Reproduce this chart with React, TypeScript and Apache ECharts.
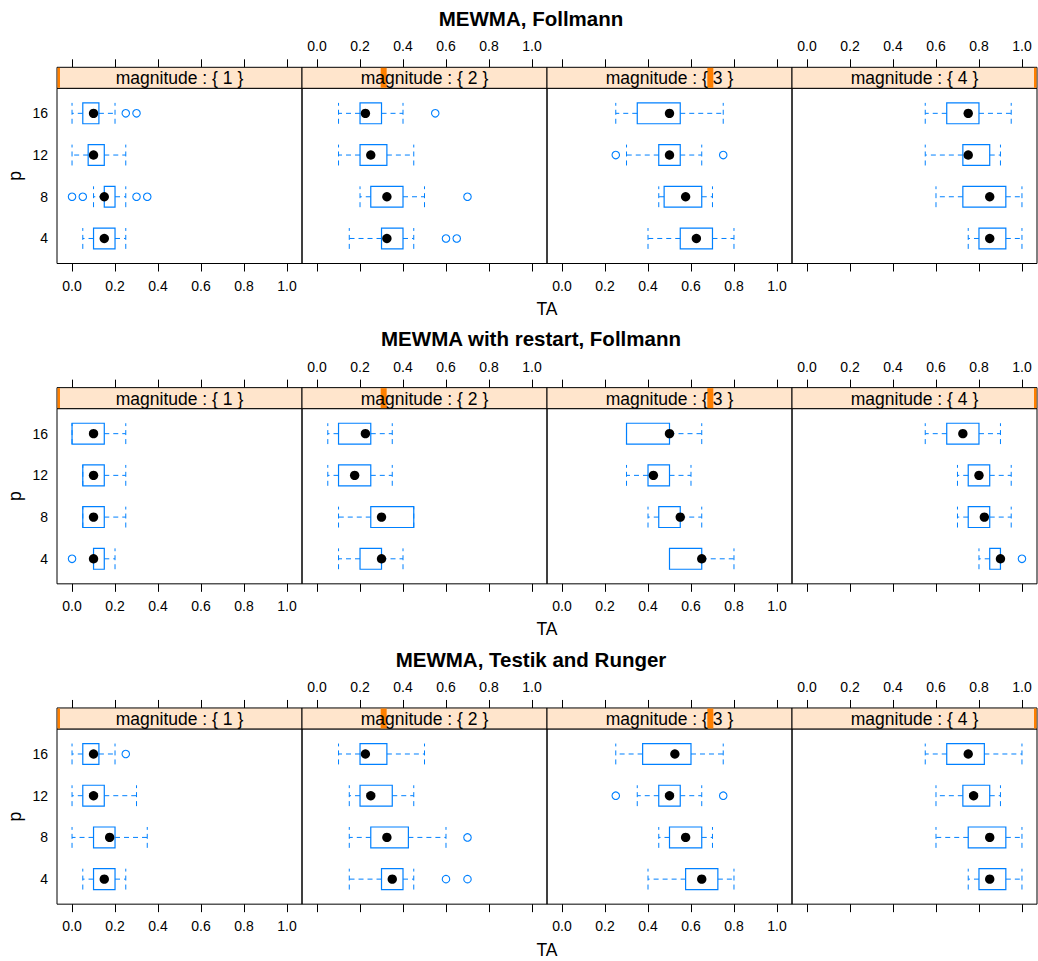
import React, { useEffect, useRef } from "react";
import * as echarts from "echarts";

// ---------- data ----------
const methods = ["MEWMA, Follmann", "MEWMA with restart, Follmann", "MEWMA, Testik and Runger"];
const magnitudes = [1, 2, 3, 4];
const pLevels = [4, 8, 12, 16];
const xTicks = [0, 0.2, 0.4, 0.6, 0.8, 1.0];

// per magnitude: rows for p = 4, 8, 12, 16 -> [lower whisker, Q1, median, Q3, upper whisker]
const statsFollmann = [
  [[0.05, 0.1, 0.15, 0.2, 0.25], [0.1, 0.15, 0.15, 0.2, 0.25], [0, 0.075, 0.1, 0.15, 0.25], [0, 0.05, 0.1, 0.125, 0.2]],
  [[0.15, 0.3, 0.325, 0.4, 0.45], [0.2, 0.25, 0.325, 0.4, 0.5], [0.1, 0.2, 0.25, 0.325, 0.45], [0.1, 0.2, 0.225, 0.3, 0.4]],
  [[0.4, 0.55, 0.625, 0.7, 0.8], [0.45, 0.475, 0.575, 0.65, 0.7], [0.3, 0.45, 0.5, 0.55, 0.65], [0.25, 0.35, 0.5, 0.55, 0.75]],
  [[0.75, 0.8, 0.85, 0.925, 1.0], [0.6, 0.725, 0.85, 0.925, 1.0], [0.55, 0.725, 0.75, 0.85, 0.9], [0.55, 0.65, 0.75, 0.8, 0.95]],
];
const statsRestart = [
  [[0.1, 0.1, 0.1, 0.15, 0.2], [0.05, 0.05, 0.1, 0.15, 0.25], [0.05, 0.05, 0.1, 0.15, 0.25], [0, 0, 0.1, 0.15, 0.25]],
  [[0.1, 0.2, 0.3, 0.3, 0.4], [0.1, 0.25, 0.3, 0.45, 0.45], [0.05, 0.1, 0.175, 0.25, 0.35], [0.05, 0.1, 0.225, 0.25, 0.35]],
  [[0.5, 0.5, 0.65, 0.65, 0.8], [0.4, 0.45, 0.55, 0.55, 0.65], [0.3, 0.4, 0.425, 0.5, 0.6], [0.3, 0.3, 0.5, 0.5, 0.65]],
  [[0.8, 0.85, 0.9, 0.9, 0.9], [0.7, 0.75, 0.825, 0.85, 0.95], [0.7, 0.75, 0.8, 0.85, 0.95], [0.55, 0.65, 0.725, 0.8, 0.9]],
];
const statsTestik = [
  [[0.05, 0.1, 0.15, 0.2, 0.25], [0, 0.1, 0.175, 0.2, 0.35], [0, 0.05, 0.1, 0.15, 0.3], [0, 0.05, 0.1, 0.125, 0.2]],
  [[0.15, 0.3, 0.35, 0.4, 0.45], [0.15, 0.25, 0.325, 0.425, 0.6], [0.15, 0.2, 0.25, 0.35, 0.45], [0.1, 0.2, 0.225, 0.325, 0.5]],
  [[0.4, 0.575, 0.65, 0.725, 0.8], [0.45, 0.5, 0.575, 0.65, 0.7], [0.35, 0.45, 0.5, 0.55, 0.65], [0.25, 0.375, 0.525, 0.6, 0.75]],
  [[0.75, 0.8, 0.85, 0.925, 1.0], [0.6, 0.75, 0.85, 0.925, 1.0], [0.6, 0.725, 0.775, 0.85, 0.9], [0.55, 0.65, 0.75, 0.825, 1.0]],
];

// outliers per magnitude: [p, value]
const outliersFollmann = [
  [[8, 0], [8, 0.05], [8, 0.3], [8, 0.35], [16, 0.25], [16, 0.3]],
  [[4, 0.6], [4, 0.65], [8, 0.7], [16, 0.55]],
  [[12, 0.25], [12, 0.75]],
  [],
];
const outliersRestart = [
  [[4, 0]],
  [],
  [],
  [[4, 1.0]],
];
const outliersTestik = [
  [[16, 0.25]],
  [[4, 0.6], [4, 0.7], [8, 0.7]],
  [[12, 0.25], [12, 0.75]],
  [],
];

const allStats = [statsFollmann, statsRestart, statsTestik];
const allOutliers = [outliersFollmann, outliersRestart, outliersTestik];

// ---------- layout / style ----------
const W = 1038;
const H = 961;
const ROW_H = 320.33;
const PANEL_LEFT = 57;
const PANEL_W = 245;
const PANEL_TOP = 88.3;
const PANEL_H = 175.2;
const STRIP_H = 21;
const BLUE = "#0080ff";
const FONT = "'Liberation Sans', Arial, Helvetica, sans-serif";
const BOX_H = 0.5;

function renderBox(params: any, api: any) {
  const yv = api.value(0);
  const pLo = api.coord([api.value(1), yv]);
  const pQ1 = api.coord([api.value(2), yv]);
  const pMed = api.coord([api.value(3), yv]);
  const pQ3 = api.coord([api.value(4), yv]);
  const pHi = api.coord([api.value(5), yv]);
  const h = api.size([0, BOX_H])[1];
  const cy = pMed[1];
  const dash = { stroke: BLUE, lineWidth: 1, lineDash: [5, 4], fill: null };
  const children: any[] = [];
  if (pQ1[0] - pLo[0] > 0.5) {
    children.push({ type: "line", shape: { x1: pQ1[0], y1: cy, x2: pLo[0], y2: cy }, style: dash });
  }
  if (pHi[0] - pQ3[0] > 0.5) {
    children.push({ type: "line", shape: { x1: pQ3[0], y1: cy, x2: pHi[0], y2: cy }, style: dash });
  }
  children.push({ type: "line", shape: { x1: pLo[0], y1: cy + h / 2, x2: pLo[0], y2: cy - h / 2 }, style: dash });
  children.push({ type: "line", shape: { x1: pHi[0], y1: cy + h / 2, x2: pHi[0], y2: cy - h / 2 }, style: dash });
  children.push({
    type: "rect",
    shape: { x: pQ1[0], y: cy - h / 2, width: pQ3[0] - pQ1[0], height: h },
    style: { fill: null, stroke: BLUE, lineWidth: 1.2 },
  });
  children.push({ type: "circle", shape: { cx: pMed[0], cy, r: 4.7 }, style: { fill: "#000" } });
  return { type: "group", children };
}

export default function App() {
  const ref = useRef<HTMLDivElement>(null);

  useEffect(() => {
    document.body.style.margin = "0";
    if (!ref.current) return;
    const chart = echarts.init(ref.current, undefined, { renderer: "svg" });

    const grids: any[] = [];
    const xAxes: any[] = [];
    const yAxes: any[] = [];
    const series: any[] = [];
    const graphics: any[] = [];

    methods.forEach((method, r) => {
      const o = r * ROW_H;
      graphics.push({
        type: "text",
        x: 531,
        y: o + 18.5,
        style: { text: method, fontSize: 20.5, fontWeight: "bold", fontFamily: FONT, fill: "#000", align: "center", verticalAlign: "middle" },
      });
      graphics.push({
        type: "text",
        x: 547,
        y: o + 309,
        style: { text: "TA", fontSize: 17.5, fontFamily: FONT, fill: "#000", align: "center", verticalAlign: "middle" },
      });
      graphics.push({
        type: "text",
        x: 15,
        y: o + PANEL_TOP + PANEL_H / 2,
        rotation: Math.PI / 2,
        style: { text: "p", fontSize: 17.5, fontFamily: FONT, fill: "#000", align: "center", verticalAlign: "middle" },
      });

      magnitudes.forEach((mag, c) => {
        const g = grids.length;
        const left = PANEL_LEFT + c * PANEL_W;
        const top = o + PANEL_TOP;
        grids.push({
          left,
          top,
          width: PANEL_W,
          height: PANEL_H,
          show: true,
          borderColor: "#000",
          borderWidth: 1,
          backgroundColor: "transparent",
          containLabel: false,
        });
        const labelStyle = { fontSize: 14, color: "#000", fontFamily: FONT, formatter: (v: number) => v.toFixed(1), customValues: xTicks };
        xAxes.push({
          gridIndex: g,
          type: "value",
          position: "bottom",
          min: -0.07,
          max: 1.07,
          axisLine: { show: false },
          splitLine: { show: false },
          axisTick: { show: true, length: 8, inside: false, lineStyle: { color: "#000", width: 1 }, customValues: xTicks },
          axisLabel: { ...labelStyle, show: c % 2 === 0, margin: 15 },
        });
        xAxes.push({
          gridIndex: g,
          type: "value",
          position: "top",
          offset: STRIP_H,
          min: -0.07,
          max: 1.07,
          axisLine: { show: false },
          splitLine: { show: false },
          axisTick: { show: true, length: 8, inside: false, lineStyle: { color: "#000", width: 1 }, customValues: xTicks },
          axisLabel: { ...labelStyle, show: c % 2 === 1, margin: 14 },
        });
        yAxes.push({
          gridIndex: g,
          type: "value",
          min: 0.4,
          max: 4.6,
          axisLine: { show: false },
          axisTick: { show: false },
          splitLine: { show: false },
          axisLabel: {
            show: c === 0,
            customValues: [1, 2, 3, 4],
            formatter: (v: number) => String(pLevels[Math.round(v) - 1]),
            fontSize: 14,
            color: "#000",
            fontFamily: FONT,
            margin: 9,
          },
        });

        const stats = allStats[r][c];
        series.push({
          type: "custom",
          xAxisIndex: 2 * g,
          yAxisIndex: g,
          silent: true,
          renderItem: renderBox,
          encode: { x: [1, 2, 3, 4, 5], y: 0 },
          data: stats.map((s, i) => [i + 1, ...s]),
          z: 3,
        });
        series.push({
          type: "scatter",
          xAxisIndex: 2 * g,
          yAxisIndex: g,
          silent: true,
          symbol: "circle",
          symbolSize: 7.5,
          itemStyle: { color: "rgba(0,0,0,0)", borderColor: BLUE, borderWidth: 1.1, opacity: 1 },
          data: allOutliers[r][c].map(([p, v]) => [v, pLevels.indexOf(p) + 1]),
          z: 3,
        });

        // strip
        const stripTop = top - STRIP_H;
        graphics.push({
          type: "rect",
          shape: { x: left, y: stripTop, width: PANEL_W, height: STRIP_H },
          style: { fill: "#ffe5cc", stroke: "#000", lineWidth: 1 },
          z: 1,
        });
        const frac = (mag - magnitudes[0]) / (magnitudes[magnitudes.length - 1] - magnitudes[0]);
        const cx = left + frac * PANEL_W;
        const bx1 = Math.max(left + 0.5, cx - 3);
        const bx2 = Math.min(left + PANEL_W - 0.5, cx + 3);
        graphics.push({
          type: "rect",
          shape: { x: bx1, y: stripTop + 0.5, width: bx2 - bx1, height: STRIP_H - 1 },
          style: { fill: "#ff7f00" },
          z: 2,
        });
        graphics.push({
          type: "text",
          x: left + PANEL_W / 2,
          y: stripTop + STRIP_H / 2 + 0.5,
          style: {
            text: `magnitude : { ${mag} }`,
            fontSize: 17.5,
            fontFamily: FONT,
            fill: "#000",
            align: "center",
            verticalAlign: "middle",
          },
          z: 3,
        });
      });
    });

    chart.setOption({
      animation: false,
      backgroundColor: "#fff",
      grid: grids,
      xAxis: xAxes,
      yAxis: yAxes,
      series,
      graphic: graphics,
    });

    return () => chart.dispose();
  }, []);

  return <div ref={ref} style={{ width: W, height: H }} />;
}
